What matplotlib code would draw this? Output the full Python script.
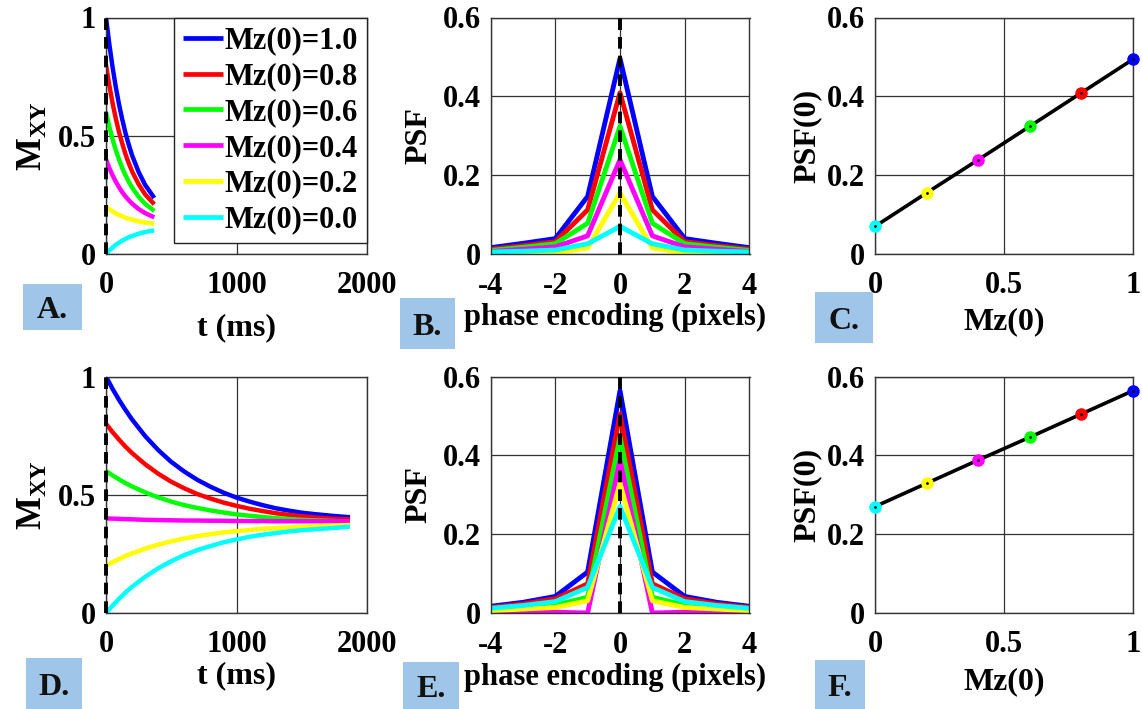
import numpy as np
import matplotlib
matplotlib.use("Agg")
import matplotlib.pyplot as plt
from matplotlib.patches import Rectangle

plt.rcParams['font.family'] = ['Liberation Serif', 'DejaVu Serif']
plt.rcParams['font.weight'] = 'bold'
plt.rcParams['axes.labelweight'] = 'bold'
plt.rcParams['axes.unicode_minus'] = False
plt.rcParams['mathtext.fontset'] = 'custom'
plt.rcParams['mathtext.rm'] = 'Liberation Serif:bold'
plt.rcParams['mathtext.it'] = 'Liberation Serif:bold'
plt.rcParams['mathtext.bf'] = 'Liberation Serif:bold'

# ---- data ----
mz0 = [1.0, 0.8, 0.6, 0.4, 0.2, 0.0]
colors = ['#0000ff', '#ff0000', '#00ff00', '#ff00ff', '#ffff00', '#00ffff']
labels = ['Mz(0)=1.0', 'Mz(0)=0.8', 'Mz(0)=0.6', 'Mz(0)=0.4', 'Mz(0)=0.2', 'Mz(0)=0.0']

# panel A: short readout, t in ms
t_a = [0, 25, 50, 75, 100, 125, 150, 175, 200, 250, 300, 370]
mxy_a = [
    [1.000, 0.889, 0.791, 0.706, 0.632, 0.568, 0.510, 0.461, 0.417, 0.347, 0.292, 0.237],
    [0.800, 0.714, 0.639, 0.573, 0.515, 0.466, 0.421, 0.383, 0.349, 0.295, 0.252, 0.210],
    [0.600, 0.539, 0.486, 0.439, 0.399, 0.363, 0.332, 0.305, 0.281, 0.242, 0.212, 0.182],
    [0.400, 0.364, 0.333, 0.306, 0.282, 0.261, 0.243, 0.227, 0.213, 0.190, 0.173, 0.155],
    [0.200, 0.189, 0.180, 0.172, 0.165, 0.159, 0.153, 0.149, 0.145, 0.138, 0.133, 0.128],
    [0.000, 0.015, 0.027, 0.039, 0.048, 0.057, 0.064, 0.071, 0.076, 0.086, 0.093, 0.100],
]

# panel D: long readout
t_d = [0, 50, 100, 150, 200, 300, 400, 500, 600, 700, 800, 900, 1000,
       1100, 1200, 1300, 1400, 1500, 1600, 1750, 1870]
mxy_d = [
    [1.000, 0.948, 0.901, 0.858, 0.818, 0.748, 0.689, 0.639, 0.598, 0.563, 0.534, 0.509, 0.488,
     0.471, 0.456, 0.443, 0.433, 0.424, 0.418, 0.410, 0.405],
    [0.800, 0.765, 0.733, 0.703, 0.676, 0.629, 0.589, 0.555, 0.527, 0.503, 0.484, 0.467, 0.453,
     0.441, 0.431, 0.422, 0.415, 0.409, 0.404, 0.398, 0.395],
    [0.600, 0.582, 0.565, 0.549, 0.535, 0.510, 0.489, 0.471, 0.456, 0.444, 0.434, 0.425, 0.417,
     0.411, 0.406, 0.401, 0.398, 0.394, 0.392, 0.389, 0.387],
    [0.400, 0.399, 0.398, 0.397, 0.396, 0.394, 0.393, 0.392, 0.391, 0.391, 0.390, 0.390, 0.389,
     0.389, 0.389, 0.388, 0.388, 0.388, 0.388, 0.388, 0.388],
    [0.200, 0.215, 0.228, 0.241, 0.252, 0.272, 0.289, 0.303, 0.315, 0.325, 0.333, 0.341, 0.346,
     0.351, 0.356, 0.359, 0.362, 0.365, 0.367, 0.370, 0.372],
    [0.000, 0.031, 0.060, 0.087, 0.111, 0.153, 0.189, 0.219, 0.245, 0.266, 0.283, 0.299, 0.311,
     0.322, 0.331, 0.338, 0.345, 0.350, 0.354, 0.360, 0.365],
]

# panels B and E: point spread functions
px = [-4, -3, -2, -1, 0, 1, 2, 3, 4]
psf_b = [
    [0.016, 0.027, 0.039, 0.146, 0.496, 0.146, 0.039, 0.027, 0.016],
    [0.012, 0.021, 0.031, 0.112, 0.409, 0.112, 0.031, 0.021, 0.012],
    [0.009, 0.017, 0.026, 0.078, 0.324, 0.078, 0.026, 0.017, 0.009],
    [0.006, 0.012, 0.018, 0.046, 0.239, 0.046, 0.018, 0.012, 0.006],
    [0.002, 0.002, 0.003, 0.015, 0.155, 0.015, 0.003, 0.002, 0.002],
    [0.005, 0.007, 0.010, 0.026, 0.070, 0.026, 0.010, 0.007, 0.005],
]
psf_e = [
    [0.017, 0.027, 0.042, 0.104, 0.564, 0.104, 0.042, 0.027, 0.017],
    [0.014, 0.023, 0.036, 0.074, 0.505, 0.074, 0.036, 0.023, 0.014],
    [0.007, 0.013, 0.020, 0.040, 0.446, 0.040, 0.020, 0.013, 0.007],
    [0.000, 0.001, 0.002, 0.000, 0.388, 0.000, 0.002, 0.001, 0.000],
    [0.006, 0.010, 0.014, 0.031, 0.329, 0.031, 0.014, 0.010, 0.006],
    [0.012, 0.019, 0.029, 0.065, 0.270, 0.065, 0.029, 0.019, 0.012],
]

# panels C and F: PSF(0) vs Mz(0)
psf0_c = [0.494, 0.409, 0.324, 0.239, 0.155, 0.070]
psf0_f = [0.564, 0.505, 0.446, 0.388, 0.329, 0.270]

W, H = 1142, 709
fig = plt.figure(figsize=(W / 100, H / 100), dpi=100)

def ax_at(left, right, top, bottom):
    return fig.add_axes([left / W, (H - bottom) / H, (right - left) / W, (bottom - top) / H])

FS = 22   # tick labels
LFS = 23  # axis labels

def style(ax):
    ax.grid(True, color='#333333', lw=0.9)
    ax.set_axisbelow(True)
    for s in ax.spines.values():
        s.set_color('#333333')
        s.set_linewidth(1.0)
    ax.tick_params(direction='in', length=0, labelsize=FS)
    ax.tick_params(axis='x', pad=12)
    ax.tick_params(axis='y', pad=7)

def dash0(ax):
    ax.axvline(0, color='k', ls=(0, (3, 1.8)), lw=2.8, zorder=6, clip_on=False)

axA = ax_at(106, 367, 17.5, 254)
axB = ax_at(490.5, 749.5, 17.5, 254)
axC = ax_at(875, 1133, 17.5, 254)
axD = ax_at(106, 367, 376.5, 613)
axE = ax_at(490.5, 749.5, 376.5, 613)
axF = ax_at(875, 1133, 376.5, 613)

# relaxation curves
for ax, t, curves in [(axA, t_a, mxy_a), (axD, t_d, mxy_d)]:
    style(ax)
    for c, y, lab in zip(colors, curves, labels):
        ax.plot(t, y, color=c, lw=3.2, label=lab, solid_capstyle='butt')
    dash0(ax)
    ax.set_xlim(0, 2000)
    ax.set_ylim(0, 1)
    ax.set_xticks([0, 1000, 2000])
    ax.set_yticks([0, 0.5, 1])
    ax.set_yticklabels(['0', '0.5', '1'])
    ax.set_ylabel(r'$\mathrm{M_{XY}}$', fontsize=LFS + 2)
    ax.yaxis.set_label_coords(-0.215, 0.5)
    ax.set_xlabel('t (ms)', fontsize=LFS)

axA.xaxis.set_label_coords(0.5, -0.25)
axD.xaxis.set_label_coords(0.5, -0.205)

leg = axA.legend(loc='upper right', fontsize=FS, frameon=True, fancybox=False,
                 framealpha=1, edgecolor='#222222', borderaxespad=0, borderpad=0.3,
                 handlelength=1.3, handletextpad=0.05, labelspacing=0.22)
leg.get_frame().set_linewidth(1.0)
for h in leg.get_lines():
    h.set_linewidth(3.4)

# PSF profiles
for ax, curves in [(axB, psf_b), (axE, psf_e)]:
    style(ax)
    for c, y in zip(colors, curves):
        ax.plot(px, y, color=c, lw=3.5)
    dash0(ax)
    ax.set_xlim(-4, 4)
    ax.set_ylim(0, 0.6)
    ax.set_xticks([-4, -2, 0, 2, 4])
    ax.set_yticks([0, 0.2, 0.4, 0.6])
    ax.set_yticklabels(['0', '0.2', '0.4', '0.6'])
    ax.tick_params(axis='x', pad=13)
    ax.set_ylabel('PSF', fontsize=LFS)
    ax.yaxis.set_label_coords(-0.222, 0.5)
    ax.set_xlabel('phase encoding (pixels)', fontsize=LFS - 1)

axB.xaxis.set_label_coords(0.48, -0.205)
axE.xaxis.set_label_coords(0.48, -0.21)

# PSF(0) vs Mz(0)
for ax, vals in [(axC, psf0_c), (axF, psf0_f)]:
    style(ax)
    ax.plot(mz0, vals, color='k', lw=2.6, zorder=3)
    for c, xv, yv in zip(colors, mz0, vals):
        ax.plot([xv], [yv], 'o', color=c, ms=8, mec=c, zorder=4, clip_on=False)
    ax.plot(mz0, vals, '.', color='k', ms=2, zorder=5, clip_on=False)
    ax.set_xlim(0, 1)
    ax.set_ylim(0, 0.6)
    ax.set_xticks([0, 0.5, 1])
    ax.set_xticklabels(['0', '0.5', '1'])
    ax.set_yticks([0, 0.2, 0.4, 0.6])
    ax.set_yticklabels(['0', '0.2', '0.4', '0.6'])
    ax.set_ylabel('PSF(0)', fontsize=LFS)
    ax.yaxis.set_label_coords(-0.205, 0.5)
    ax.set_xlabel('Mz(0)', fontsize=LFS)

axC.xaxis.set_label_coords(0.5, -0.225)
axF.xaxis.set_label_coords(0.5, -0.23)

# panel letter boxes (pixel boxes: x0, y0, x1, y1)
boxes = [('A.', 23, 284, 82, 330), ('B.', 400, 298, 455, 349), ('C.', 815, 292, 873, 343),
         ('D.', 26, 658, 82, 709), ('E.', 403, 662, 459, 709), ('F.', 815, 660, 865, 709)]
for txt, x0, y0, x1, y1 in boxes:
    fig.patches.append(Rectangle((x0 / W, (H - y1) / H), (x1 - x0) / W, (y1 - y0) / H,
                                 transform=fig.transFigure, facecolor='#9fc5e8',
                                 edgecolor='none', zorder=0))
    fig.text((x0 + x1) / 2 / W, (H - (y0 + y1) / 2 - 4) / H, txt, ha='center', va='center',
             fontsize=LFS, color='#111111')

fig.savefig('out.png', dpi=100)
